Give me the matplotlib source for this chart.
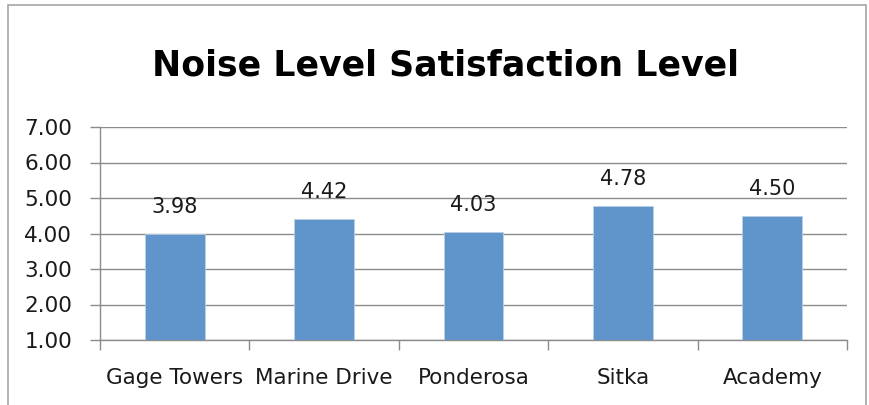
import matplotlib
matplotlib.use("Agg")
import matplotlib.pyplot as plt
from matplotlib.patches import Rectangle
import numpy as np

# Survey results per residence
residences = ["Gage Towers", "Marine Drive", "Ponderosa", "Sitka", "Academy"]
satisfaction = [3.98, 4.42, 4.03, 4.78, 4.50]
y_ticks = [1, 2, 3, 4, 5, 6, 7]

plt.rcParams['font.family'] = ['DejaVu Sans']

fig = plt.figure(figsize=(8.7, 4.05), dpi=100)
ax = fig.add_axes([100 / 870, 1 - 340 / 405, 747 / 870, 213 / 405])

# outer chart frame
fig.patches.append(Rectangle((8 / 870, -0.1), 858 / 870, 1.1 - 5 / 405,
                             transform=fig.transFigure, fill=False,
                             edgecolor='#a6a6a6', linewidth=1.2))

x = np.arange(len(residences))
bars = ax.bar(x, satisfaction, width=0.4, bottom=0, color='#5f95cb',
              edgecolor='#b9cfe6', linewidth=0.6, zorder=3)

for xi, v in zip(x, satisfaction):
    ax.annotate(f"{v:.2f}", (xi, v), xytext=(0, 19.5), textcoords='offset points',
                ha='center', va='center', fontsize=15, color='#1a1a1a')

ax.set_xlim(-0.5, len(residences) - 0.5)
ax.set_ylim(1, 7)
ax.set_yticks(y_ticks)
ax.set_yticklabels([f"{t:.2f}" for t in y_ticks], fontsize=15.5, color='#1a1a1a')
ax.yaxis.grid(True, color='#8c8c8c', linewidth=1.0, zorder=0)

ax.set_xticks(x)
ax.set_xticklabels(residences, fontsize=15.5, color='#1a1a1a')
ax.set_xticks(np.arange(-0.5, len(residences)), minor=True)
ax.tick_params(axis='x', which='major', length=0, pad=20)
ax.tick_params(axis='x', which='minor', length=7, color='#8c8c8c', width=1.0)
ax.tick_params(axis='y', length=7, color='#8c8c8c', width=1.0, pad=13)

for side in ['top', 'right']:
    ax.spines[side].set_visible(False)
for side in ['left', 'bottom']:
    ax.spines[side].set_color('#8c8c8c')
    ax.spines[side].set_linewidth(1.0)

fig.text(446 / 870, 1 - 65 / 405, "Noise Level Satisfaction Level",
         ha='center', va='center', fontsize=25, fontweight='bold', color='black')

fig.savefig("out.png", dpi=100)
